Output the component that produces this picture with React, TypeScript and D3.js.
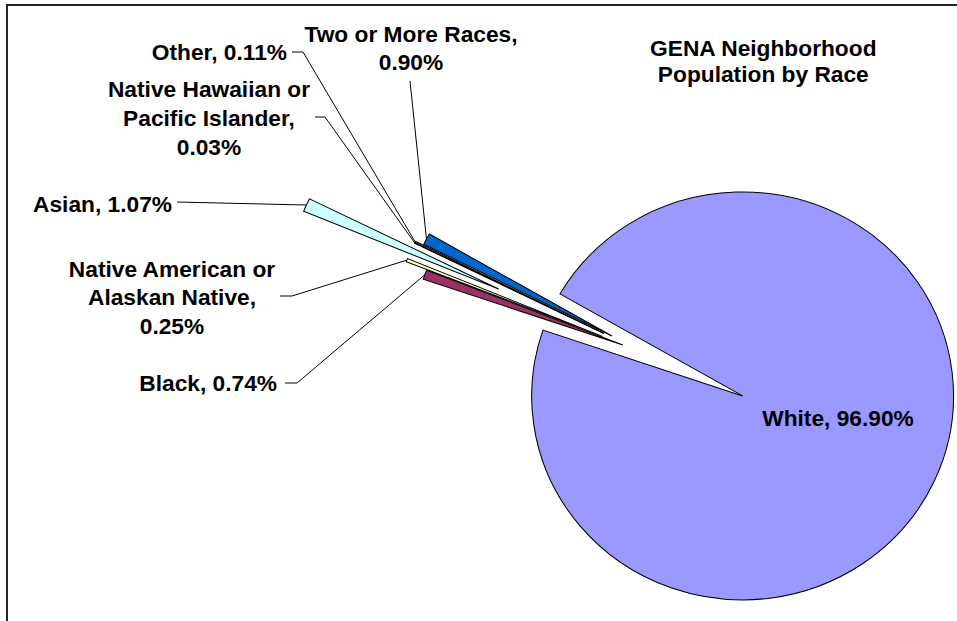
import React from "react";
import * as d3 from "d3";

// ---- data ----
const categories = [
  "White",
  "Black",
  "Native American or Alaskan Native",
  "Asian",
  "Native Hawaiian or Pacific Islander",
  "Other",
  "Two or More Races",
];
const percents = [96.9, 0.74, 0.25, 1.07, 0.03, 0.11, 0.9];
const colors = ["#9999FF", "#993366", "#FFFFCC", "#CCFFFF", "#660066", "#FF8080", "#0066CC"];
const titleLines = ["GENA Neighborhood", "Population by Race"];

// ---- layout / style ----
const W = 957;
const H = 621;
const SX = 1.034; // horizontal stretch of the original picture
const CX = 642.8;
const CY = 352.1;
const R = 204;
const START = (300 * Math.PI) / 180;
const explode = [106, 20.5, 42, 153, 42, 42, 33.8];
const FONT = "'Liberation Sans', Arial, Helvetica, sans-serif";
const FS = 22;

type LabelLayout = {
  x: number;
  y: number;
  anchor: "start" | "middle" | "end";
  maxChars: number;
  lh: number;
  leader: [number, number][];
};
const labelLayout: LabelLayout[] = [
  { x: 838, y: 426, anchor: "middle", maxChars: 99, lh: 28, leader: [] },
  { x: 277, y: 391, anchor: "end", maxChars: 99, lh: 28, leader: [[285, 383], [297, 383]] },
  { x: 172, y: 277, anchor: "middle", maxChars: 18, lh: 28.3, leader: [[280, 296], [292, 296]] },
  { x: 172, y: 212, anchor: "end", maxChars: 99, lh: 28, leader: [[177, 202]] },
  { x: 209, y: 97.3, anchor: "middle", maxChars: 18, lh: 29, leader: [[315, 117], [325, 117]] },
  { x: 287, y: 60, anchor: "end", maxChars: 99, lh: 28, leader: [[292, 52], [303, 52]] },
  { x: 411, y: 42, anchor: "middle", maxChars: 18, lh: 28, leader: [[410, 81]] },
];

function wrap(text: string, maxChars: number): string[] {
  const words = text.split(" ");
  const lines: string[] = [];
  let cur = "";
  for (const w of words) {
    const cand = cur ? cur + " " + w : w;
    if (cand.length > maxChars && cur) {
      lines.push(cur);
      cur = w;
    } else cur = cand;
  }
  if (cur) lines.push(cur);
  return lines;
}

export default function App() {
  const pie = d3
    .pie<number>()
    .sort(null)
    .value((d) => d)
    .startAngle(START)
    .endAngle(START + 2 * Math.PI);
  const arcs = pie(percents);
  const arc = d3.arc<d3.PieArcDatum<number>>().innerRadius(0).outerRadius(R);

  const toScreen = (lx: number, ly: number): [number, number] => [CX + SX * lx, CY + ly];

  return (
    <svg
      width={W}
      height={H}
      style={{ position: "absolute", left: 0, top: 0, background: "#fff" }}
    >
      <rect x={0} y={0} width={W} height={H} fill="#fff" />
      <path d={`M7,${H + 2} V5 H${W + 2}`} fill="none" stroke="#222" strokeWidth={2} />

      <g transform={`translate(${CX},${CY}) scale(${SX},1)`}>
        {arcs.map((a, i) => {
          const mid = (a.startAngle + a.endAngle) / 2;
          const dx = Math.sin(mid) * explode[i];
          const dy = -Math.cos(mid) * explode[i];
          return (
            <path
              key={categories[i]}
              d={arc(a) || ""}
              transform={`translate(${dx},${dy})`}
              fill={colors[i]}
              stroke="#000"
              strokeWidth={1}
              strokeLinejoin="miter"
            />
          );
        })}
      </g>

      {arcs.map((a, i) => {
        const lay = labelLayout[i];
        if (!lay.leader.length) return null;
        const mid = (a.startAngle + a.endAngle) / 2;
        const rr = explode[i] + R;
        const end = toScreen(Math.sin(mid) * rr, -Math.cos(mid) * rr);
        const pts = [...lay.leader, end];
        return (
          <polyline
            key={"l" + i}
            points={pts.map((p) => p.join(",")).join(" ")}
            fill="none"
            stroke="#000"
            strokeWidth={1}
          />
        );
      })}

      {categories.map((c, i) => {
        const lay = labelLayout[i];
        const lines = wrap(`${c}, ${percents[i].toFixed(2)}%`, lay.maxChars);
        return (
          <g key={"t" + i}>
            {lines.map((ln, j) => (
              <text
                key={j}
                transform={`translate(${lay.x},${lay.y + j * lay.lh}) scale(${SX},1)`}
                textAnchor={lay.anchor}
                fontFamily={FONT}
                fontWeight="bold"
                fontSize={FS}
                fill="#000"
              >
                {ln}
              </text>
            ))}
          </g>
        );
      })}

      {titleLines.map((t, j) => (
        <text
          key={"title" + j}
          transform={`translate(763.3,${55.5 + j * 26.5}) scale(${SX},1)`}
          textAnchor="middle"
          fontFamily={FONT}
          fontWeight="bold"
          fontSize={FS}
          fill="#000"
        >
          {t}
        </text>
      ))}
    </svg>
  );
}
